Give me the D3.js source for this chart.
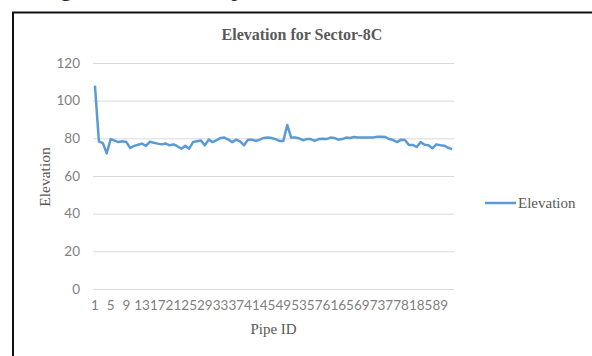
<!DOCTYPE html>
<html>
<head>
<meta charset="utf-8">
<script src="https://cdn.jsdelivr.net/npm/d3@7"></script>
<style>
  html, body { margin: 0; padding: 0; background: #fff; }
  svg { display: block; }
</style>
</head>
<body>
<svg id="chart" width="592" height="356"></svg>
<script>
// Pipe IDs along the sector (category axis)
const pipeIds = [
  1, 2, 3, 4, 5, 6, 7, 8, 9, 10, 11, 12, 13, 14, 15, 16, 17, 18, 19, 20,
  21, 22, 23, 24, 25, 26, 27, 28, 29, 30, 31, 32, 33, 34, 35, 36, 37, 38, 39, 40,
  41, 42, 43, 44, 45, 46, 47, 48, 49, 50, 51, 52, 53, 54, 55, 56, 57, 58, 59, 60,
  61, 62, 63, 64, 65, 66, 67, 68, 69, 70, 71, 72, 73, 74, 75, 76, 77, 78, 79, 80,
  81, 82, 83, 84, 85, 86, 87, 88, 89, 90, 91, 92
];

// Elevation of each pipe
const elevation = [
  108, 78.4, 77.5, 72, 79.6, 78.8, 78, 78.4, 78, 74.9,
  76, 76.6, 77.2, 76, 78.2, 77.7, 77.2, 76.8, 77.3, 76.3,
  76.8, 75.8, 74.5, 76, 74.5, 78, 78.4, 78.8, 76.3, 79.3,
  78, 79, 80.2, 80.4, 79.3, 78, 79.3, 78.4, 76.3, 79.3,
  79.3, 78.6, 79.3, 80.2, 80.4, 80.2, 79.6, 78.6, 78.6, 87.1,
  80.4, 80.4, 80, 79, 79.6, 79.6, 78.6, 79.6, 79.8, 79.6,
  80.4, 80.2, 79.3, 79.6, 80.4, 80.2, 80.7, 80.4, 80.4, 80.4,
  80.4, 80.5, 80.9, 80.9, 80.7, 79.6, 79.1, 78, 79.3, 79.1,
  76.5, 76.5, 75.4, 78, 76.6, 76.3, 74.7, 76.8, 76.3, 76.1,
  75, 74.3
];

// Axis labels
const xTickLabels = [1, 5, 9, 13, 17, 21, 25, 29, 33, 37, 41, 45, 49, 53, 57, 61, 65, 69, 73, 77, 81, 85, 89];
const yTickLabels = [0, 20, 40, 60, 80, 100, 120];
const seriesName = "Elevation";

const svg = d3.select("#chart");
const plot = { left: 93, right: 454, top: 63, bottom: 289 };

const x = d3.scaleBand().domain(pipeIds).range([plot.left, plot.right]);
const y = d3.scaleLinear().domain([0, 120]).range([plot.bottom, plot.top]);
const cx = d => x(d) + x.bandwidth() / 2;

const serif = "'Liberation Serif', 'Times New Roman', serif";
const sans = "Lato, 'Open Sans', sans-serif";

// Caption line of the page above the figure (only its descenders reach the page top)
svg.append("text")
  .attr("x", 40).attr("y", -4)
  .attr("font-family", serif).attr("font-size", 24)
  .attr("fill", "#222")
  .text("Figure 9: Elevation profile");

// Frame around the figure
svg.append("path")
  .attr("d", "M13,356 L13,12.5 L592,12.5")
  .attr("fill", "none").attr("stroke", "#111").attr("stroke-width", 2);

// Horizontal gridlines + value labels
const yAxis = svg.append("g")
  .attr("transform", `translate(${plot.left},0)`)
  .call(d3.axisLeft(y).tickValues(yTickLabels).tickSize(-(plot.right - plot.left)).tickPadding(13));
yAxis.select(".domain").remove();
yAxis.selectAll(".tick line").attr("stroke", "#d9d9d9").attr("stroke-width", 1);
yAxis.selectAll(".tick text")
  .attr("font-family", sans).attr("font-size", 13.5).attr("fill", "#7f7f7f");

// Category labels
const xAxis = svg.append("g")
  .attr("transform", `translate(0,${plot.bottom})`)
  .call(d3.axisBottom(x).tickValues(xTickLabels).tickSize(0).tickPadding(11));
xAxis.select(".domain").remove();
xAxis.selectAll(".tick text")
  .attr("font-family", sans).attr("font-size", 13.5).attr("fill", "#7f7f7f");

// Elevation line
const line = d3.line().x((d, i) => cx(pipeIds[i])).y(d => y(d));
svg.append("path")
  .datum(elevation)
  .attr("d", line)
  .attr("fill", "none")
  .attr("stroke", "#5b9bd5")
  .attr("stroke-width", 2.5)
  .attr("stroke-linejoin", "round");

// Titles
svg.append("text")
  .attr("x", 302).attr("y", 40)
  .attr("text-anchor", "middle")
  .attr("font-family", serif).attr("font-weight", "bold").attr("font-size", 16)
  .attr("fill", "#595959")
  .text("Elevation for Sector-8C");

svg.append("text")
  .attr("transform", "translate(50,177) rotate(-90)")
  .attr("text-anchor", "middle")
  .attr("font-family", serif).attr("font-size", 15.5)
  .attr("fill", "#595959")
  .text("Elevation");

svg.append("text")
  .attr("x", (plot.left + plot.right) / 2).attr("y", 334)
  .attr("text-anchor", "middle")
  .attr("font-family", serif).attr("font-size", 15)
  .attr("fill", "#595959")
  .text("Pipe ID");

// Legend
const legend = svg.append("g").attr("transform", "translate(485,203)");
legend.append("line")
  .attr("x1", 0).attr("x2", 31).attr("y1", 0).attr("y2", 0)
  .attr("stroke", "#5b9bd5").attr("stroke-width", 2.5);
legend.append("text")
  .attr("x", 33).attr("y", 5)
  .attr("font-family", serif).attr("font-size", 15)
  .attr("fill", "#595959")
  .text(seriesName);
</script>
</body>
</html>
